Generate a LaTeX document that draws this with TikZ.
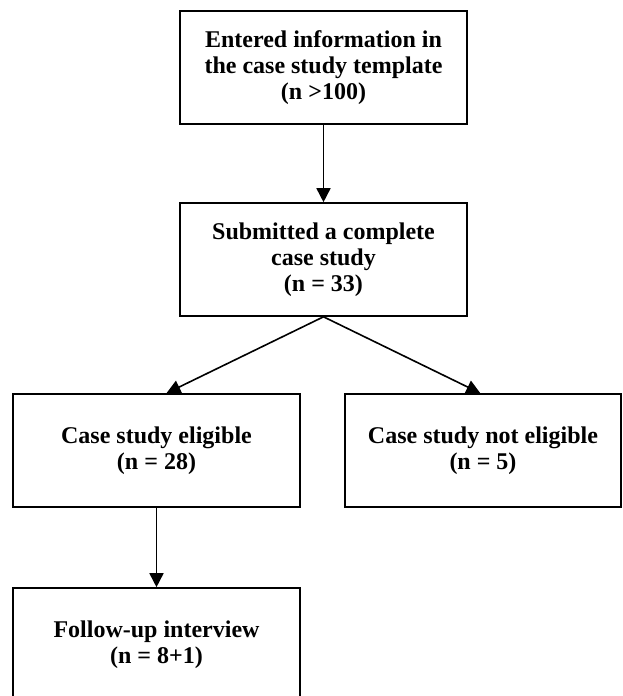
\documentclass[tikz,border=0pt]{standalone}
\usepackage{fontspec}
\setmainfont{Liberation Serif}
\usetikzlibrary{arrows.meta}

\tikzset{
    box/.style={draw, line width=1.2pt, align=center, inner sep=0pt,
        minimum height=84.75pt,
        font=\fontsize{18}{19.5}\selectfont\bfseries},
    flow/.style={line width=1.2pt, -{Triangle[length=10.5pt, width=10.5pt]}}
}

\begin{document}
\begin{tikzpicture}[x=0.75pt, y=-0.75pt]
    % 画像の範囲
    \useasboundingbox (0,0) rectangle (622,696);

    % 箱の描画
    \node[box, minimum width=215.25pt] (entered) at (323.5,67.5)
        {Entered information in\\the case study template\\(n >100)};
    \node[box, minimum width=215.25pt] (submitted) at (323.5,259.5)
        {Submitted a complete\\case study\\(n = 33)};
    \node[box, minimum width=215.25pt] (eligible) at (156.5,450.5)
        {Case study eligible\\(n = 28)};
    \node[box, minimum width=207pt] (noteligible) at (483,450.5)
        {Case study not eligible\\(n = 5)};
    \node[box, minimum width=215.25pt] (followup) at (156.5,644.5)
        {Follow-up interview\\(n = 8+1)};

    % 矢印の描画
    \draw[flow] (entered.south) -- (submitted.north);
    \draw[flow] (submitted.south) -- ([xshift=7.5pt]eligible.north);
    \draw[flow] (submitted.south) -- ([xshift=-2pt]noteligible.north);
    \draw[flow] (eligible.south) -- (followup.north);

\end{tikzpicture}
\end{document}
